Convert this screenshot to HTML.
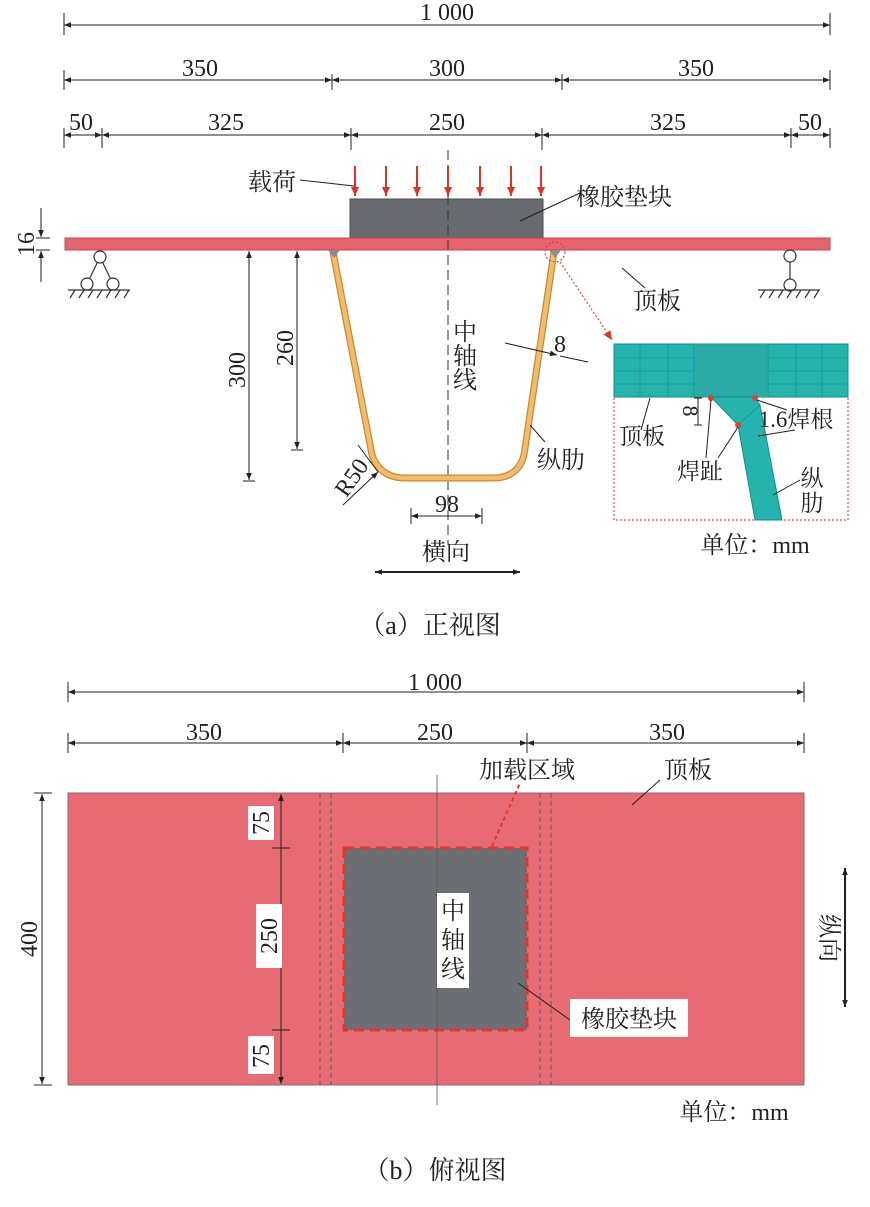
<!DOCTYPE html>
<html><head><meta charset="utf-8"><style>
body{margin:0;background:#fff}
svg text{font-family:"Liberation Serif","Noto Serif CJK SC",serif;fill:#222}
.cj{font-family:"Liberation Serif","Noto Serif CJK SC","Noto Sans CJK SC",serif}
</style></head><body>
<svg width="870" height="1202" viewBox="0 0 870 1202" xmlns="http://www.w3.org/2000/svg">
<defs>
<marker id="a" viewBox="0 0 10 10" refX="10" refY="5" markerWidth="14" markerHeight="7" orient="auto-start-reverse" markerUnits="userSpaceOnUse"><path d="M0,1L10,5L0,9z" fill="#222"/></marker>
<marker id="r" viewBox="0 0 10 10" refX="10" refY="5" markerWidth="12" markerHeight="9" orient="auto" markerUnits="userSpaceOnUse"><path d="M0,0.5L10,5L0,9.5z" fill="#d9332a"/></marker>
</defs>
<g stroke="#222" stroke-width="1" fill="none">
<line x1="64" y1="25" x2="830" y2="25" marker-start="url(#a)" marker-end="url(#a)"/>
<line x1="64" y1="13" x2="64" y2="35"/><line x1="830" y1="13" x2="830" y2="35"/>
<line x1="64" y1="80" x2="332" y2="80" marker-start="url(#a)" marker-end="url(#a)"/>
<line x1="332" y1="80" x2="562" y2="80" marker-start="url(#a)" marker-end="url(#a)"/>
<line x1="562" y1="80" x2="830" y2="80" marker-start="url(#a)" marker-end="url(#a)"/>
<line x1="64" y1="70" x2="64" y2="90"/><line x1="332" y1="74" x2="332" y2="90"/><line x1="562" y1="74" x2="562" y2="90"/><line x1="830" y1="70" x2="830" y2="90"/>
<line x1="64" y1="135" x2="102" y2="135" marker-start="url(#a)" marker-end="url(#a)"/>
<line x1="102" y1="135" x2="351" y2="135" marker-start="url(#a)" marker-end="url(#a)"/>
<line x1="351" y1="135" x2="542" y2="135" marker-start="url(#a)" marker-end="url(#a)"/>
<line x1="542" y1="135" x2="791" y2="135" marker-start="url(#a)" marker-end="url(#a)"/>
<line x1="791" y1="135" x2="830" y2="135" marker-start="url(#a)" marker-end="url(#a)"/>
<line x1="64" y1="128" x2="64" y2="148"/><line x1="102" y1="128" x2="102" y2="148"/><line x1="351" y1="128" x2="351" y2="150"/><line x1="542" y1="128" x2="542" y2="150"/><line x1="791" y1="128" x2="791" y2="148"/><line x1="830" y1="128" x2="830" y2="148"/>
</g>
<g font-size="24" text-anchor="middle">
<text x="447" y="20">1 000</text>
<text x="200" y="76">350</text><text x="447" y="76">300</text><text x="696" y="76">350</text>
<text x="81" y="130">50</text><text x="226" y="130">325</text><text x="447" y="130">250</text><text x="668" y="130">325</text><text x="810" y="130">50</text>
</g>
<rect x="350" y="199" width="193" height="40" fill="#676a6e" stroke="#4a4c50"/>
<rect x="65" y="238" width="765" height="12" fill="#e7646f" stroke="#b84a55"/>
<line x1="448" y1="150" x2="448" y2="545" stroke="#333" stroke-dasharray="10,5"/>
<g stroke="#d9332a" stroke-width="2">
<line x1="355" y1="166" x2="355" y2="196" marker-end="url(#r)"/><line x1="386" y1="166" x2="386" y2="196" marker-end="url(#r)"/><line x1="417" y1="166" x2="417" y2="196" marker-end="url(#r)"/><line x1="448" y1="166" x2="448" y2="196" marker-end="url(#r)"/><line x1="480" y1="166" x2="480" y2="196" marker-end="url(#r)"/><line x1="511" y1="166" x2="511" y2="196" marker-end="url(#r)"/><line x1="541" y1="166" x2="541" y2="196" marker-end="url(#r)"/>
</g>
<path d="M333,252 L372,455 Q380,478 405,478 L493,478 Q518,478 524,455 L554,252" fill="none" stroke="#c58a3a" stroke-width="7"/>
<path d="M333,252 L372,455 Q380,478 405,478 L493,478 Q518,478 524,455 L554,252" fill="none" stroke="#f5bc66" stroke-width="4.5"/>
<path d="M328,250 L340,250 L334,258z M549,250 L561,250 L555,258z" fill="#8a8c90"/>
<circle cx="555" cy="252" r="10" fill="none" stroke="#d9332a" stroke-dasharray="2,2"/>
<line x1="560" y1="262" x2="612" y2="340" stroke="#d9332a" stroke-dasharray="2,2" marker-end="url(#r)"/>
<g stroke="#333" fill="#fff" stroke-width="1.2">
<path d="M87,284 L100,257 L113,284" fill="none"/><circle cx="100" cy="257" r="6"/><circle cx="87" cy="284" r="6"/><circle cx="113" cy="284" r="6"/>
<line x1="68" y1="290" x2="130" y2="290"/>
<path d="M70,298l5,-8M79,298l5,-8M88,298l5,-8M97,298l5,-8M106,298l5,-8M115,298l5,-8M124,298l5,-8" />
<line x1="790" y1="262" x2="790" y2="279"/><circle cx="790" cy="256" r="6"/><circle cx="790" cy="285" r="6"/>
<line x1="758" y1="290" x2="820" y2="290"/>
<path d="M760,298l5,-8M769,298l5,-8M778,298l5,-8M787,298l5,-8M796,298l5,-8M805,298l5,-8M814,298l5,-8"/>
</g>
<g stroke="#222" fill="none">
<line x1="41" y1="208" x2="41" y2="237" marker-end="url(#a)"/><line x1="41" y1="282" x2="41" y2="251" marker-end="url(#a)"/>
<line x1="36" y1="238" x2="50" y2="238"/><line x1="36" y1="250" x2="50" y2="250"/>
<line x1="249" y1="251" x2="249" y2="480" marker-start="url(#a)" marker-end="url(#a)"/><line x1="243" y1="481" x2="255" y2="481"/>
<line x1="297" y1="251" x2="297" y2="449" marker-start="url(#a)" marker-end="url(#a)"/><line x1="291" y1="450" x2="303" y2="450"/>
<line x1="411" y1="516" x2="482" y2="516" marker-start="url(#a)" marker-end="url(#a)"/><line x1="411" y1="508" x2="411" y2="524"/><line x1="482" y1="508" x2="482" y2="524"/>
<line x1="343" y1="505" x2="378" y2="472" marker-end="url(#a)"/><line x1="378" y1="472" x2="358" y2="445"/>
<line x1="505" y1="343" x2="557" y2="355" marker-end="url(#a)"/><line x1="588" y1="362" x2="560" y2="356"/>
<line x1="300" y1="180" x2="354" y2="186"/><line x1="580" y1="193" x2="520" y2="221"/><line x1="622" y1="268" x2="645" y2="288" /><line x1="530" y1="425" x2="545" y2="442"/>
<line x1="375" y1="572" x2="520" y2="572" stroke-width="2" marker-start="url(#a)" marker-end="url(#a)"/>
</g>
<g font-size="24" text-anchor="middle">
<text transform="translate(34,244) rotate(-90)">16</text>
<text transform="translate(245,370) rotate(-90)">300</text>
<text transform="translate(293,348) rotate(-90)">260</text>
<text transform="translate(358,482) rotate(-55)">R50</text>
<text x="560" y="352">8</text>
<text x="447" y="512">98</text>
</g>
<g class="cj" font-size="24" text-anchor="middle">
<text x="272" y="190">载荷</text><text x="624" y="205">橡胶垫块</text><text x="657" y="309">顶板</text>
<text x="465" y="340">中</text><text x="465" y="364">轴</text><text x="465" y="388">线</text>
<text x="561" y="468">纵肋</text><text x="446" y="560">横向</text>
<text x="755" y="553">单位：<tspan font-family="Liberation Serif">mm</tspan></text>
<text x="430" y="634" font-size="26">（a）正视图</text>
</g>
<rect x="614" y="344" width="234" height="176" fill="#fff" stroke="#d9332a" stroke-dasharray="2,2"/>
<rect x="614" y="344" width="234" height="53" fill="#25b3ae" stroke="#178a86"/>
<g stroke="#178a86" stroke-width="0.6">
<line x1="640" y1="344" x2="640" y2="397"/><line x1="668" y1="344" x2="668" y2="397"/><line x1="694" y1="344" x2="694" y2="397"/><line x1="768" y1="344" x2="768" y2="397"/><line x1="796" y1="344" x2="796" y2="397"/><line x1="822" y1="344" x2="822" y2="397"/>
<line x1="614" y1="358" x2="848" y2="358"/><line x1="614" y1="371" x2="848" y2="371"/><line x1="614" y1="384" x2="848" y2="384"/>
</g>
<rect x="694" y="344" width="74" height="53" fill="#2aa9a5" stroke="#1a8f8b" stroke-width="0.4"/>
<path d="M711,397 L755,397 L760,405 L782,520 L755,520 L738,425z" fill="#25b3ae" stroke="#178a86"/>
<line x1="738" y1="425" x2="760" y2="405" stroke="#178a86" stroke-width="0.6"/>
<g fill="#e0402f"><circle cx="711" cy="398" r="3"/><circle cx="755" cy="398" r="3"/><circle cx="738" cy="425" r="3"/></g>
<g stroke="#222" fill="none">
<line x1="698" y1="398" x2="698" y2="425"/><line x1="694" y1="398" x2="702" y2="398"/><line x1="694" y1="425" x2="702" y2="425"/>
<line x1="650" y1="398" x2="641" y2="430"/><line x1="711" y1="400" x2="706" y2="458"/><line x1="738" y1="427" x2="718" y2="458"/><line x1="757" y1="400" x2="787" y2="410"/>
<line x1="758" y1="436" x2="795" y2="430"/><line x1="773" y1="495" x2="800" y2="480"/>
</g>
<g class="cj" font-size="23" text-anchor="middle">
<text transform="translate(683,411) rotate(90)" font-family="Liberation Serif" font-size="22">8</text>
<text x="642" y="444">顶板</text><text x="700" y="479">焊趾</text>
<text x="796" y="427"><tspan font-family="Liberation Serif">1.6</tspan>焊根</text>
<text x="812" y="486">纵</text><text x="812" y="511">肋</text>
</g>
<g stroke="#222" fill="none">
<line x1="68" y1="692" x2="804" y2="692" marker-start="url(#a)" marker-end="url(#a)"/>
<line x1="68" y1="682" x2="68" y2="702"/><line x1="804" y1="682" x2="804" y2="702"/>
<line x1="68" y1="743" x2="343" y2="743" marker-start="url(#a)" marker-end="url(#a)"/>
<line x1="343" y1="743" x2="527" y2="743" marker-start="url(#a)" marker-end="url(#a)"/>
<line x1="527" y1="743" x2="804" y2="743" marker-start="url(#a)" marker-end="url(#a)"/>
<line x1="68" y1="733" x2="68" y2="753"/><line x1="343" y1="733" x2="343" y2="753"/><line x1="527" y1="733" x2="527" y2="753"/><line x1="804" y1="733" x2="804" y2="753"/>
</g>
<g font-size="24" text-anchor="middle">
<text x="435" y="690">1 000</text><text x="204" y="740">350</text><text x="435" y="740">250</text><text x="667" y="740">350</text>
</g>
<rect x="68" y="793" width="736" height="292" fill="#e86a73" stroke="#8a6a6c"/>
<g stroke="#555" stroke-dasharray="5,3" stroke-width="0.9">
<line x1="320" y1="793" x2="320" y2="1085"/><line x1="331" y1="793" x2="331" y2="1085"/><line x1="540" y1="793" x2="540" y2="1085"/><line x1="551" y1="793" x2="551" y2="1085"/>
</g>
<rect x="344" y="848" width="183" height="182" fill="#6b6e72" stroke="#e2362b" stroke-width="3" stroke-dasharray="10,6"/>
<line x1="437" y1="775" x2="437" y2="1105" stroke="#555" stroke-width="0.8"/>
<line x1="492" y1="846" x2="520" y2="783" stroke="#e2362b" stroke-width="2" stroke-dasharray="4,3"/>
<g stroke="#222" fill="none">
<line x1="42" y1="794" x2="42" y2="1084" marker-start="url(#a)" marker-end="url(#a)"/><line x1="34" y1="793" x2="52" y2="793"/><line x1="34" y1="1085" x2="52" y2="1085"/>
<line x1="281" y1="794" x2="281" y2="1084" marker-start="url(#a)" marker-end="url(#a)"/>
<line x1="272" y1="848" x2="290" y2="848"/><line x1="272" y1="1030" x2="290" y2="1030"/>
<line x1="845" y1="868" x2="845" y2="1007" stroke-width="2" marker-start="url(#a)" marker-end="url(#a)"/>
<line x1="660" y1="780" x2="632" y2="805"/><line x1="518" y1="983" x2="570" y2="1020"/>
</g>
<g fill="#fff"><rect x="248" y="806" width="26" height="34"/><rect x="256" y="904" width="26" height="64"/><rect x="248" y="1036" width="26" height="38"/><rect x="437" y="893" width="32" height="95"/><rect x="570" y="999" width="118" height="38"/></g>
<g font-size="24" text-anchor="middle">
<text transform="translate(269,823) rotate(-90)">75</text>
<text transform="translate(277,936) rotate(-90)">250</text>
<text transform="translate(269,1056) rotate(-90)">75</text>
<text transform="translate(37,939) rotate(-90)">400</text>
</g>
<g class="cj" font-size="24" text-anchor="middle">
<text x="527" y="778">加载区域</text><text x="688" y="778">顶板</text>
<text x="453" y="919">中</text><text x="453" y="948">轴</text><text x="453" y="977">线</text>
<text x="629" y="1027">橡胶垫块</text>
<text transform="translate(821,938) rotate(90)">纵向</text>
<text x="734" y="1120">单位：<tspan font-family="Liberation Serif">mm</tspan></text>
<text x="435" y="1179" font-size="26">（b）俯视图</text>
</g>
</svg>
</body></html>
